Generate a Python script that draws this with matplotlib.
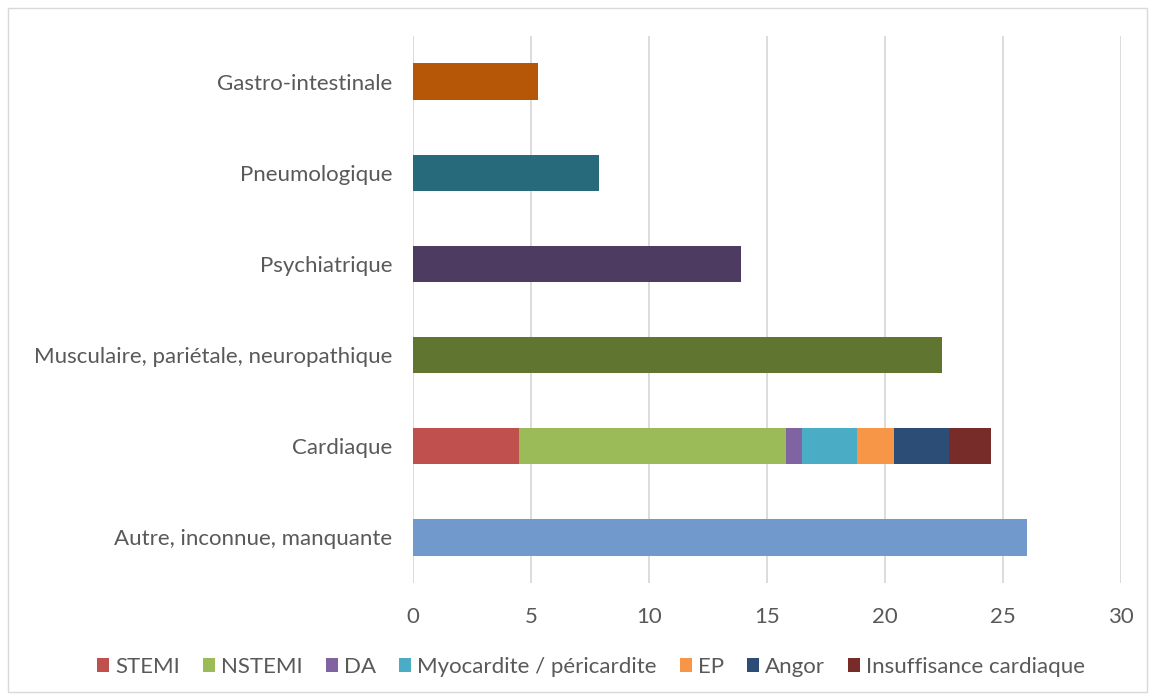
import numpy as np
import matplotlib.pyplot as plt
from matplotlib.patches import Rectangle

plt.rcParams['font.family'] = ['Lato', 'DejaVu Sans']

#-------data

categories = ['Autre, inconnue, manquante', 'Cardiaque',
              'Musculaire, pariétale, neuropathique', 'Psychiatrique',
              'Pneumologique', 'Gastro-intestinale']
# single-colour bars (cardiaque is split below)
other_values = [26.0, 0, 22.4, 13.9, 7.9, 5.3]
other_colors = ['#7199CB', '#FFFFFF', '#60752F', '#4D3B62', '#276A7C', '#B65708']

cardiac_labels = ['STEMI', 'NSTEMI', 'DA', 'Myocardite / péricardite', 'EP',
                  'Angor', 'Insuffisance cardiaque']
cardiac_values = [4.5, 11.3, 0.7, 2.3, 1.6, 2.3, 1.8]
cardiac_colors = ['#C0504D', '#9BBB59', '#8064A2', '#4BACC6', '#F79646',
                  '#2C4D75', '#772C2A']

xticks = [0, 5, 10, 15, 20, 25, 30]

#-----------------------

fig = plt.figure(figsize=(11.55, 7), dpi=100)
ax = fig.add_axes([413/1155, 1-583/700, (1121-413)/1155, (583-36)/700])

y = np.arange(len(categories))
h = 0.4

for i in range(len(categories)):
    if other_values[i] > 0:
        ax.barh(y[i], other_values[i], height=h, color=other_colors[i], zorder=3)

left = 0
handles = []
for v, c, lab in zip(cardiac_values, cardiac_colors, cardiac_labels):
    b = ax.barh(y[1], v, left=left, height=h, color=c, label=lab, zorder=3)
    handles.append(b)
    left = left + v

ax.set_xlim(0, 30)
ax.set_ylim(-0.5, len(categories) - 0.5)
ax.set_xticks(xticks)
ax.set_yticks(y)
ax.set_yticklabels(categories)
ax.grid(axis='x', color='#D9D9D9', linewidth=1.3, zorder=0)
for s in ax.spines.values():
    s.set_visible(False)
ax.tick_params(axis='both', length=0, labelsize=16, colors='#595959')
ax.tick_params(axis='x', pad=17)
ax.tick_params(axis='y', pad=15)

fig.legend(handles=handles, labels=cardiac_labels, loc='center',
           bbox_to_anchor=(591/1155, 1-667/700), ncol=7, frameon=False,
           fontsize=16, handlelength=0.55, handleheight=0.55,
           handletextpad=0.25, columnspacing=1.05, labelcolor='#595959')

fig.patches.append(Rectangle((8/1155, 8/700), 1139/1155, 684/700, transform=fig.transFigure,
                             fill=False, edgecolor='#D9D9D9', linewidth=1))

plt.savefig('out.png', dpi=100)
